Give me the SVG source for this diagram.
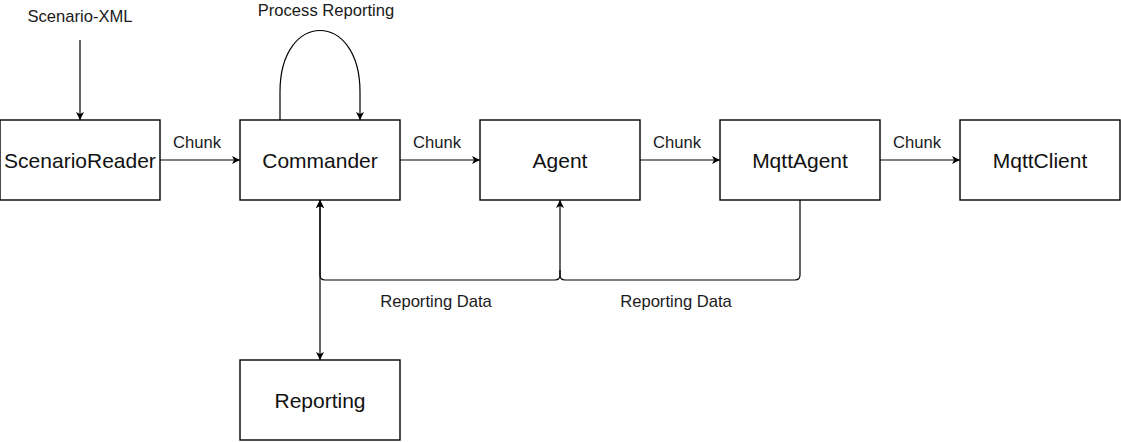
<svg xmlns="http://www.w3.org/2000/svg" width="1121" height="442" viewBox="0 0 1121 442">
<style>
.box{fill:#fff;stroke:#000;stroke-width:1.4}
.nt{font-family:"Liberation Sans",Arial,sans-serif;font-size:21px;fill:#111;text-anchor:middle}
.lt{font-family:"Liberation Sans",Arial,sans-serif;font-size:16.6px;fill:#1a1a1a;text-anchor:middle}
.e{fill:none;stroke:#000;stroke-width:1.2}
</style>
<defs>
<marker id="arr" markerUnits="userSpaceOnUse" markerWidth="10" markerHeight="10" refX="8" refY="4" orient="auto-start-reverse" viewBox="0 0 10 10">
<path d="M0,0 L8,4 L0,8 L2,4 z" fill="#000"/>
</marker>
</defs>
<rect width="1121" height="442" fill="#fff"/>
<g id="connectors">
<path class="e" d="M80,40 L80,120" marker-end="url(#arr)"/>
<path class="e" d="M280,120 L280,92 C280,10 360,10 360,92 L360,120" marker-end="url(#arr)"/>
<path class="e" d="M160,160 L240,160" marker-end="url(#arr)"/>
<path class="e" d="M400,160 L480,160" marker-end="url(#arr)"/>
<path class="e" d="M640,160 L720,160" marker-end="url(#arr)"/>
<path class="e" d="M880,160 L960,160" marker-end="url(#arr)"/>
<path class="e" d="M800,200 L800,275 Q800,280 795,280 L565,280 Q560,280 560,275 L560,200" marker-end="url(#arr)"/>
<path class="e" d="M560,270 L560,275 Q560,280 555,280 L325,280 Q320,280 320,275 L320,200" marker-end="url(#arr)"/>
<path class="e" d="M320,200 L320,360" marker-start="url(#arr)" marker-end="url(#arr)"/>
<text class="lt" x="80" y="22">Scenario-XML</text>
<text class="lt" x="326" y="16">Process Reporting</text>
<text class="lt" x="197" y="148">Chunk</text>
<text class="lt" x="437" y="148">Chunk</text>
<text class="lt" x="677" y="148">Chunk</text>
<text class="lt" x="917" y="148">Chunk</text>
<text class="lt" x="436" y="307">Reporting Data</text>
<text class="lt" x="676" y="307">Reporting Data</text>
</g>
<g id="ScenarioReader"><rect class="box" x="0" y="120" width="160" height="80"/><text class="nt" x="80" y="168">ScenarioReader</text></g>
<g id="Commander"><rect class="box" x="240" y="120" width="160" height="80"/><text class="nt" x="320" y="168">Commander</text></g>
<g id="Agent"><rect class="box" x="480" y="120" width="160" height="80"/><text class="nt" x="560" y="168">Agent</text></g>
<g id="MqttAgent"><rect class="box" x="720" y="120" width="160" height="80"/><text class="nt" x="800" y="168">MqttAgent</text></g>
<g id="MqttClient"><rect class="box" x="960" y="120" width="160" height="80"/><text class="nt" x="1040" y="168">MqttClient</text></g>
<g id="Reporting"><rect class="box" x="240" y="360" width="160" height="80"/><text class="nt" x="320" y="408">Reporting</text></g>
</svg>
